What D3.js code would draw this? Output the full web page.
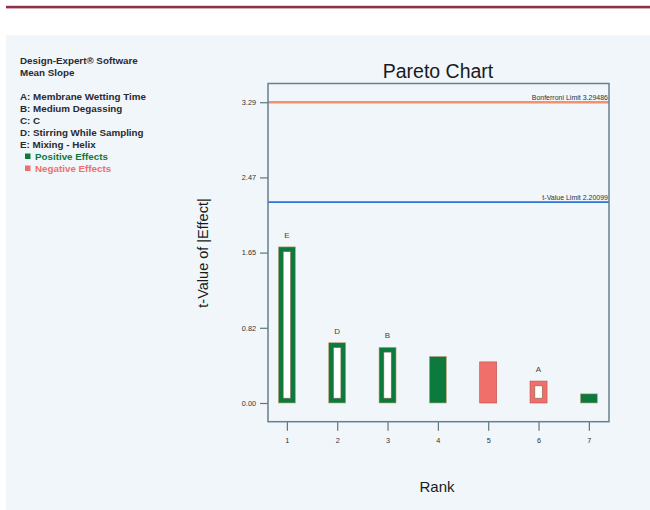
<!DOCTYPE html>
<html>
<head>
<meta charset="utf-8">
<script src="https://cdn.jsdelivr.net/npm/d3@7"></script>
<style>
  body { margin: 0; background: #fff; }
  svg { display: block; font-family: "Liberation Sans", Arial, sans-serif; }
</style>
</head>
<body>
<div id="chart"></div>
<script>
// chart data
var ranks = [1, 2, 3, 4, 5, 6, 7];
var tValues = [1.71, 0.66, 0.61, 0.51, 0.45, 0.24, 0.10];
var effectSign = ["pos", "pos", "pos", "pos", "neg", "neg", "pos"];
var termLabels = ["E", "D", "B", "", "", "A", ""];
var yTickValues = [0, 0.8237, 1.6474, 2.4711, 3.29486];
var bonferroniLimit = 3.29486;
var tValueLimit = 2.20099;
var legendLines = ["A: Membrane Wetting Time", "B: Medium Degassing", "C: C",
                   "D: Stirring While Sampling", "E: Mixing - Helix"];

var green = "#0b7a3c", red = "#f06f6a";

var svg = d3.select("#chart").append("svg").attr("width", 650).attr("height", 510);

// page decoration
svg.append("rect").attr("x", 6).attr("y", 35).attr("width", 644).attr("height", 475).style("fill", "#f0f6fa");
svg.append("rect").attr("x", 6).attr("y", 5.8).attr("width", 644).attr("height", 2.6).style("fill", "#8c3148");

// left info text
var info = svg.append("g").style("font-weight", "bold").style("font-size", "9.8px").style("fill", "#2a2a30");
info.append("text").attr("x", 20).attr("y", 64).text("Design-Expert\u00AE Software");
info.append("text").attr("x", 20).attr("y", 76).text("Mean Slope");
legendLines.forEach(function(t, i){
  info.append("text").attr("x", 20).attr("y", 100 + i * 12).text(t);
});
[["Positive Effects", green], ["Negative Effects", red]].forEach(function(d, i){
  var yy = 160 + i * 12;
  svg.append("rect").attr("x", 25).attr("y", yy - 6.5).attr("width", 5.5).attr("height", 5.5).style("fill", d[1]);
  svg.append("text").attr("x", 35).attr("y", yy).style("font-size", "9.8px")
    .style("font-weight", "bold").style("fill", d[1]).text(d[0]);
});

// plot area
var pLeft = 268, pTop = 83.5, pRight = 609, pBottom = 421.7;
var x = d3.scaleLinear().domain([0.625, 7.4]).range([pLeft, pRight]);
var y = d3.scaleLinear().domain([-0.205, 3.5]).range([pBottom, pTop]);
var barW = 17, inset = 4.8;

// limit lines
svg.append("line").attr("x1", pLeft).attr("x2", pRight).attr("y1", y(bonferroniLimit)).attr("y2", y(bonferroniLimit))
  .style("stroke", "#f4906c").style("stroke-width", "2.6px");
svg.append("line").attr("x1", pLeft).attr("x2", pRight).attr("y1", y(tValueLimit)).attr("y2", y(tValueLimit))
  .style("stroke", "#2d74d4").style("stroke-width", "1.6px");
svg.append("text").attr("x", pRight - 1).attr("y", y(bonferroniLimit) - 2.5).attr("text-anchor", "end")
  .style("font-size", "7px").style("fill", "#333").text("Bonferroni Limit " + bonferroniLimit);
svg.append("text").attr("x", pRight - 1).attr("y", y(tValueLimit) - 2.5).attr("text-anchor", "end")
  .style("font-size", "7px").style("fill", "#333").text("t-Value Limit " + tValueLimit);

// bars
ranks.forEach(function(r, i){
  var col = effectSign[i] == "pos" ? green : red;
  var edge = effectSign[i] == "pos" ? "#c9a27a" : "#b8504a";
  var x0 = x(r) - barW / 2, y0 = y(tValues[i]), h = y(0) - y0;
  svg.append("rect").attr("x", x0).attr("y", y0).attr("width", barW).attr("height", h)
    .style("fill", col).style("stroke", edge).style("stroke-width", "0.6px");
  if (termLabels[i] != "") {
    svg.append("rect").attr("x", x0 + inset).attr("y", y0 + inset)
      .attr("width", barW - 2 * inset).attr("height", Math.max(0, h - 2 * inset))
      .style("fill", "#fff").style("stroke", "#7a6a50").style("stroke-width", "0.6px");
    svg.append("text").attr("x", x(r)).attr("y", y0 - 9).attr("text-anchor", "middle")
      .style("font-size", "8px").style("fill", "#444").text(termLabels[i]);
  }
});

// axes
var yAxis = d3.axisLeft(y).tickValues(yTickValues).tickFormat(d3.format(".2f")).tickSize(8).tickPadding(4);
var gy = svg.append("g").attr("transform", "translate(" + pLeft + ",0)").call(yAxis);
var xAxis = d3.axisBottom(x).tickValues(ranks).tickFormat(d3.format("d")).tickSize(9).tickPadding(7);
var gx = svg.append("g").attr("transform", "translate(0," + pBottom + ")").call(xAxis);
[gy, gx].forEach(function(g){
  g.select(".domain").remove();
  g.selectAll("line").style("stroke", "#5f7583").style("stroke-width", "1.2px");
  g.selectAll("text").style("font-size", "7.3px").style("fill", "#333").style("font-family", "Liberation Sans, Arial, sans-serif");
});

// frame
svg.append("rect").attr("x", pLeft).attr("y", pTop).attr("width", pRight - pLeft).attr("height", pBottom - pTop)
  .style("fill", "none").style("stroke", "#66808e").style("stroke-width", "1.5px");

// titles
svg.append("text").attr("x", 438).attr("y", 78).attr("text-anchor", "middle")
  .style("font-size", "19.5px").style("fill", "#1a1a22").text("Pareto Chart");
svg.append("text").attr("x", 437).attr("y", 492).attr("text-anchor", "middle")
  .style("font-size", "15px").style("fill", "#1a1a22").text("Rank");
svg.append("text").attr("transform", "translate(208,253) rotate(-90)").attr("text-anchor", "middle")
  .style("font-size", "14.5px").style("fill", "#1a1a22").text("t-Value of |Effect|");
</script>
</body>
</html>
